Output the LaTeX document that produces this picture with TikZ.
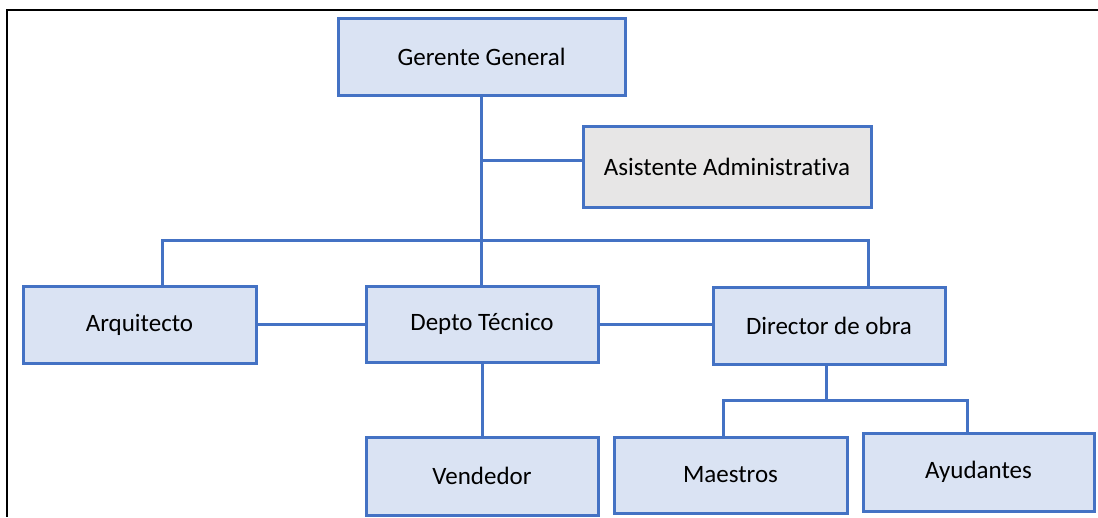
\documentclass[tikz,border=0pt]{standalone}
\usepackage{fontspec}
\setmainfont{Carlito}[Ligatures={NoCommon}]
\definecolor{boxblue}{HTML}{DAE3F3}
\definecolor{boxgray}{HTML}{E7E6E6}
\definecolor{lineblue}{HTML}{4472C4}
\tikzset{
  unit/.style={draw=lineblue, line width=3pt, fill=boxblue, inner sep=0pt,
    font=\fontsize{25}{28}\selectfont, text=black},
  staff/.style={unit, fill=boxgray},
  link/.style={draw=lineblue, line width=3pt},
  frameline/.style={draw=black, line width=2pt}
}
\begin{document}
\begin{tikzpicture}[x=1pt, y=-1pt]
  \useasboundingbox (0,0) rectangle (1098,517);
  % page frame
  \coordinate (fTL) at (7,10);
  \coordinate (fTR) at (1098,10);
  \coordinate (fBL) at (7,517);
  \draw[frameline] (fTR) -- (fTL) -- (fBL);

  % units
  \node[unit, minimum width=287pt, minimum height=77pt] (gg)  at (481.5,56.5) {Gerente General};
  \node[staff, minimum width=288pt, minimum height=81pt] (asis) at (727,166.5) {Asistente Administrativa};
  \node[unit, minimum width=233pt, minimum height=77pt] (arq) at (139.5,324.5) {Arquitecto};
  \node[unit, minimum width=232pt, minimum height=76pt] (dep) at (482,324) {Depto Técnico};
  \node[unit, minimum width=232pt, minimum height=77pt] (dir) at (829,325.5) {Director de obra};
  \node[unit, minimum width=232pt, minimum height=78pt] (ven) at (482,476) {Vendedor};
  \node[unit, minimum width=233pt, minimum height=76pt] (mae) at (730.5,475) {Maestros};
  \node[unit, minimum width=231pt, minimum height=78pt] (ayu) at (978.5,472) {Ayudantes};

  % junction points
  \coordinate (spine) at (481,160);
  \coordinate (busL) at (162,240);
  \coordinate (busR) at (868,240);
  \coordinate (dirJ) at (826,400);
  \coordinate (subL) at (723,400);
  \coordinate (subR) at (967,400);

  % connectors
  \draw[link] (gg.south -| spine) -- (spine |- dep.north);
  \draw[link] (spine) -- (spine -| asis.west);
  \draw[link] (busL |- arq.north) -- (busL) -- (busR) -- (busR |- dir.north);
  \draw[link] (arq.east) -- (arq.east -| dep.west);
  \draw[link] (dep.east) -- (dep.east -| dir.west);
  \draw[link] (dep.south) -- (ven.north);
  \draw[link] (dirJ |- dir.south) -- (dirJ);
  \draw[link] (subL |- mae.north) -- (subL) -- (subR) -- (subR |- ayu.north);
\end{tikzpicture}
\end{document}
